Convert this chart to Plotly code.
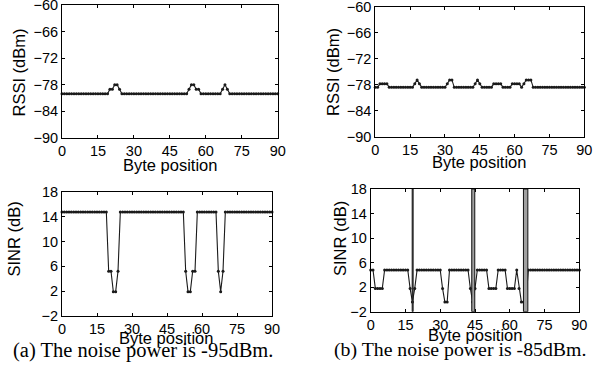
import plotly.graph_objects as go

# ---------------- data ----------------
byte_pos = list(range(0, 91))

rssi_a = [
    -80, -80, -80, -80, -80, -80, -80, -80, -80, -80,
    -80, -80, -80, -80, -80, -80, -80, -80, -80, -80,
    -79, -79, -78, -78, -79, -80, -80, -80, -80, -80,
    -80, -80, -80, -80, -80, -80, -80, -80, -80, -80,
    -80, -80, -80, -80, -80, -80, -80, -80, -80, -80,
    -80, -80, -80, -79, -78, -78, -79, -79, -80, -80,
    -80, -80, -80, -80, -80, -80, -80, -79, -78, -79,
    -80, -80, -80, -80, -80, -80, -80, -80, -80, -80,
    -80, -80, -80, -80, -80, -80, -80, -80, -80, -80,
    -80,
]

sinr_a = [
    14.8, 14.8, 14.8, 14.8, 14.8, 14.8, 14.8, 14.8, 14.8, 14.8,
    14.8, 14.8, 14.8, 14.8, 14.8, 14.8, 14.8, 14.8, 14.8, 14.8,
    5.2, 5.2, 1.9, 1.9, 5.2, 14.8, 14.8, 14.8, 14.8, 14.8,
    14.8, 14.8, 14.8, 14.8, 14.8, 14.8, 14.8, 14.8, 14.8, 14.8,
    14.8, 14.8, 14.8, 14.8, 14.8, 14.8, 14.8, 14.8, 14.8, 14.8,
    14.8, 14.8, 14.8, 5.2, 1.9, 1.9, 5.2, 5.2, 14.8, 14.8,
    14.8, 14.8, 14.8, 14.8, 14.8, 14.8, 14.8, 5.2, 1.9, 5.2,
    14.8, 14.8, 14.8, 14.8, 14.8, 14.8, 14.8, 14.8, 14.8, 14.8,
    14.8, 14.8, 14.8, 14.8, 14.8, 14.8, 14.8, 14.8, 14.8, 14.8,
    14.8,
]

rssi_b = [
    -78.6, -78.6, -77.8, -77.8, -77.8, -77.8, -78.6, -78.6, -78.6, -78.6,
    -78.6, -78.6, -78.6, -78.6, -78.6, -78.6, -78.6, -77.8, -76.9, -77.8,
    -78.6, -78.6, -78.6, -78.6, -78.6, -78.6, -78.6, -78.6, -78.6, -78.6,
    -78.6, -77.8, -76.9, -76.9, -78.6, -78.6, -78.6, -78.6, -78.6, -78.6,
    -78.6, -78.6, -78.6, -77.8, -76.9, -77.8, -78.6, -78.6, -78.6, -78.6,
    -78.6, -77.8, -77.8, -77.8, -77.8, -78.6, -78.6, -78.6, -78.6, -77.8,
    -77.8, -77.8, -77.8, -78.6, -77.8, -76.9, -76.9, -76.9, -78.6, -78.6,
    -78.6, -78.6, -78.6, -78.6, -78.6, -78.6, -78.6, -78.6, -78.6, -78.6,
    -78.6, -78.6, -78.6, -78.6, -78.6, -78.6, -78.6, -78.6, -78.6, -78.6,
    -78.6,
]

sinr_b = [
    4.8, 4.8, 1.8, 1.8, 1.8, 1.8, 4.8, 4.8, 4.8, 4.8,
    4.8, 4.8, 4.8, 4.8, 4.8, 4.8, 4.8, 1.8, -0.4, 1.8,
    4.8, 4.8, 4.8, 4.8, 4.8, 4.8, 4.8, 4.8, 4.8, 4.8,
    4.8, 1.8, -0.4, -0.4, 4.8, 4.8, 4.8, 4.8, 4.8, 4.8,
    4.8, 4.8, 4.8, 1.8, -0.4, 1.8, 4.8, 4.8, 4.8, 4.8,
    4.8, 1.8, 1.8, 1.8, 1.8, 4.8, 4.8, 4.8, 4.8, 1.8,
    1.8, 1.8, 1.8, 4.8, 1.8, -0.4, -0.4, -0.4, 4.8, 4.8,
    4.8, 4.8, 4.8, 4.8, 4.8, 4.8, 4.8, 4.8, 4.8, 4.8,
    4.8, 4.8, 4.8, 4.8, 4.8, 4.8, 4.8, 4.8, 4.8, 4.8,
    4.8,
]

# error-marked byte spans in panel (b) SINR
err_start = [17.9, 43.6, 65.9]
err_end = [18.3, 44.9, 67.8]

x_ticks = [0, 15, 30, 45, 60, 75, 90]
rssi_ticks = [-90, -84, -78, -72, -66, -60]
sinr_ticks = [-2, 2, 6, 10, 14, 18]

x_title = "Byte position"
rssi_title = "RSSI (dBm)"
sinr_title = "SINR (dB)"
caption_a = "(a) The noise power is -95dBm."
caption_b = "(b) The noise power is -85dBm."

# ---------------- figure ----------------
W, H = 594, 379

def px_x(p):
    return p / W

def px_y(p):
    return 1 - p / H

LINE = "#1a1a1a"
fig = go.Figure()

series = [(rssi_a, "x", "y"), (sinr_a, "x2", "y2"), (rssi_b, "x3", "y3"), (sinr_b, "x4", "y4")]
for vals, xa, ya in series:
    fig.add_trace(go.Scatter(
        x=byte_pos, y=vals, xaxis=xa, yaxis=ya, mode="lines+markers",
        line=dict(color=LINE, width=1.1), marker=dict(color=LINE, size=3),
        showlegend=False, hoverinfo="skip", cliponaxis=False))

for x0, x1 in zip(err_start, err_end):
    fig.add_shape(type="rect", xref="x4", yref="y4", x0=x0, x1=x1, y0=-2, y1=18,
                  fillcolor="#a0a0a0", line=dict(color="#111111", width=1), layer="above")

tickfont = dict(family="Liberation Sans, Arial", size=14.5, color="black")
ax_common = dict(showline=True, linecolor="black", linewidth=1, mirror="ticks",
                 ticks="inside", ticklen=3, tickcolor="black", tickwidth=1,
                 showgrid=False, zeroline=False, tickfont=tickfont, fixedrange=True,
                 automargin=False, ticklabeloverflow="allow")

boxes = {
    "a_top": (62, 277.7, 5, 138),
    "a_bot": (62, 272, 192.3, 315.7),
    "b_top": (375.3, 584.3, 6.7, 136.7),
    "b_bot": (370.7, 579.3, 189, 311.7),
}

def xdom(b):
    return [px_x(b[0]), px_x(b[1])]

def ydom(b):
    return [px_y(b[3]), px_y(b[2])]

fig.update_layout(
    template="none",
    width=W, height=H, autosize=False,
    margin=dict(l=0, r=0, t=0, b=0, pad=0),
    paper_bgcolor="white", plot_bgcolor="white",
    xaxis=dict(domain=xdom(boxes["a_top"]), anchor="y", range=[0, 90], tickvals=x_ticks, **ax_common),
    yaxis=dict(domain=ydom(boxes["a_top"]), anchor="x", range=[-90, -60], tickvals=rssi_ticks, **ax_common),
    xaxis2=dict(domain=xdom(boxes["a_bot"]), anchor="y2", range=[0, 90], tickvals=x_ticks, **ax_common),
    yaxis2=dict(domain=ydom(boxes["a_bot"]), anchor="x2", range=[-2, 18], tickvals=sinr_ticks, **ax_common),
    xaxis3=dict(domain=xdom(boxes["b_top"]), anchor="y3", range=[0, 90], tickvals=x_ticks, **ax_common),
    yaxis3=dict(domain=ydom(boxes["b_top"]), anchor="x3", range=[-90, -60], tickvals=rssi_ticks, **ax_common),
    xaxis4=dict(domain=xdom(boxes["b_bot"]), anchor="y4", range=[0, 90], tickvals=x_ticks, **ax_common),
    yaxis4=dict(domain=ydom(boxes["b_bot"]), anchor="x4", range=[-2, 18], tickvals=sinr_ticks, **ax_common),
)

title_font = dict(family="Liberation Sans, Arial", size=16.5, color="black")
cap_font_a = dict(family="Liberation Serif, Times New Roman", size=20.5, color="black")
cap_font_b = dict(family="Liberation Serif, Times New Roman", size=19.8, color="black")

def ann(text, cx, cy, font, angle=0):
    fig.add_annotation(text=text, x=px_x(cx), y=px_y(cy), xref="paper", yref="paper",
                       xanchor="center", yanchor="middle", showarrow=False,
                       textangle=angle, font=font)

ann(x_title, 169.5, 164.5, title_font)
ann(x_title, 166, 338, title_font)
ann(x_title, 479, 162, title_font)
ann(x_title, 475, 335, title_font)
ann(rssi_title, 18.5, 73, title_font, -90)
ann(sinr_title, 13.5, 239, title_font, -90)
ann(rssi_title, 333, 72, title_font, -90)
ann(sinr_title, 340, 238, title_font, -90)
ann(caption_a, 143, 350.5, cap_font_a)
ann(caption_b, 460, 349.5, cap_font_b)

fig.write_html(
    "out.html",
    config={"displayModeBar": False, "staticPlot": True},
    post_script="document.body.style.margin='0';document.body.style.overflow='hidden';",
)
